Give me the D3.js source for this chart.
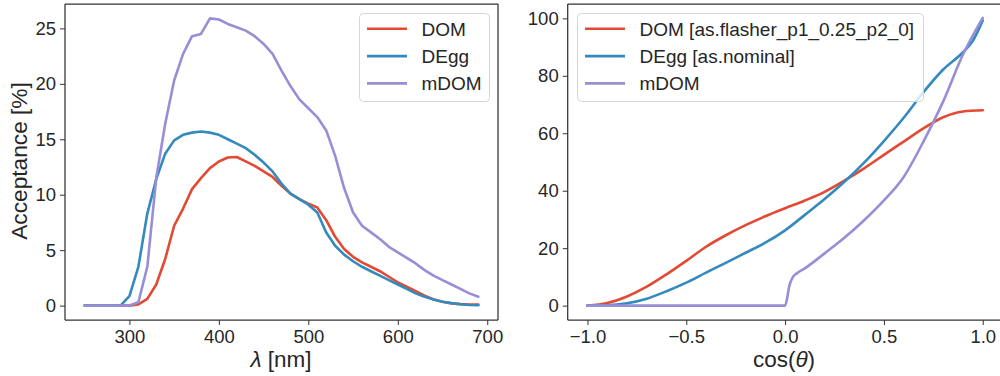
<!DOCTYPE html>
<html><head><meta charset="utf-8">
<script src="https://cdn.jsdelivr.net/npm/d3@7"></script>
<style>
body{margin:0;background:#fff;}
text{font-family:"Liberation Sans",Arial,sans-serif;fill:#262626;}
</style></head>
<body><svg id="c" width="1000" height="376"></svg>
<script>
// ---- Left panel data: wavelength [nm] ----
const wavelengths = [250,260,270,280,290,300,310,320,330,340,350,360,370,380,390,400,410,420,430,440,450,460,470,480,490,500,510,520,530,540,550,560,570,580,590,600,610,620,630,640,650,660,670,680,690];
const accDOM  = [0,0,0,0,0,0,0.1,0.6,1.9,4.2,7.2,8.75,10.5,11.5,12.4,13.0,13.35,13.4,13.0,12.6,12.1,11.6,10.8,10.1,9.6,9.2,8.85,7.7,6.2,5.1,4.4,3.9,3.5,3.1,2.6,2.1,1.7,1.3,0.9,0.55,0.35,0.2,0.13,0.1,0.09];
const accDEgg = [0,0,0,0,0,0.85,3.5,8.3,11.4,13.7,14.9,15.4,15.6,15.7,15.6,15.4,15.0,14.6,14.2,13.6,12.9,12.1,11.0,10.1,9.6,9.1,8.4,6.6,5.4,4.6,4.0,3.5,3.1,2.7,2.3,1.9,1.5,1.1,0.8,0.55,0.35,0.22,0.12,0.05,0.03];
const accMDOM = [0,0,0,0,0,0,0.3,3.5,11.5,16.4,20.3,22.7,24.3,24.5,25.9,25.8,25.4,25.1,24.8,24.3,23.6,22.7,21.2,19.8,18.6,17.8,17.0,15.8,13.5,10.6,8.4,7.2,6.6,6.0,5.3,4.8,4.3,3.8,3.2,2.7,2.3,1.9,1.5,1.1,0.8];
const leftXTicks = [300,400,500,600,700];
const leftYTicks = [0,5,10,15,20,25];
const leftLabels = ["DOM","DEgg","mDOM"];

// ---- Right panel data: cos(theta) ----
const cosDOM  = [-1.0,-0.9,-0.8,-0.7,-0.6,-0.5,-0.4,-0.3,-0.2,-0.1,0.0,0.1,0.2,0.3,0.4,0.5,0.6,0.7,0.8,0.9,1.0];
const angDOM  = [0,0.9,3.2,6.6,10.9,15.6,20.5,24.5,28.0,31.1,33.9,36.6,39.6,43.5,47.8,52.5,57.1,61.7,65.6,67.6,68.0];
const cosDEgg = [-1.0,-0.9,-0.8,-0.7,-0.6,-0.5,-0.4,-0.3,-0.2,-0.1,0.0,0.1,0.2,0.3,0.4,0.5,0.6,0.7,0.8,0.9,0.95,1.0];
const angDEgg = [0,0.1,0.8,2.4,5.0,8.0,11.5,14.9,18.4,21.9,26.2,31.6,37.1,43.1,49.8,57.3,65.4,74.3,82.2,88.2,92.2,99.3];
const cosMDOM = [-1.0,-0.5,0.0,0.01,0.02,0.04,0.06,0.1,0.2,0.3,0.4,0.5,0.6,0.7,0.8,0.9,1.0];
const angMDOM = [0,0,0,2.5,6.5,10.0,11.3,13.0,18.2,23.6,29.7,36.6,44.8,57.1,71.1,87.4,100.2];
const rightXTicks = [-1.0,-0.5,0.0,0.5,1.0];
const rightYTicks = [0,20,40,60,80,100];
const rightLabels = ["DOM [as.flasher_p1_0.25_p2_0]","DEgg [as.nominal]","mDOM"];

const colors = ["#E24A33","#348ABD","#988ED5"];

const svg = d3.select("#c");

function panel(opts){
  const {x, y, series, xTicks, yTicks, xFmt, labels, legend, showRight} = opts;
  const g = svg.append("g");
  const [x0,x1] = x.range(), [y0,y1] = y.range();
  const line = d3.line().x(d=>x(d[0])).y(d=>y(d[1])).curve(opts.curve);
  series.forEach((s,i)=>{
    g.append("path").datum(s).attr("d",line).attr("fill","none")
     .attr("stroke",colors[i]).attr("stroke-width",2.6).attr("stroke-linejoin","round").attr("stroke-linecap","round");
  });
  const xa = g.append("g").attr("transform",`translate(0,${y0})`)
    .call(d3.axisBottom(x).tickValues(xTicks).tickFormat(xFmt).tickSize(5).tickPadding(5));
  const ya = g.append("g").attr("transform",`translate(${x0},0)`)
    .call(d3.axisLeft(y).tickValues(yTicks).tickSize(5).tickPadding(4));
  [xa,ya].forEach(a=>{
    a.select(".domain").remove();
    a.selectAll(".tick line").attr("stroke","#333").attr("stroke-width",1);
    a.selectAll(".tick text").style("font-size","18.5px").attr("fill","#262626");
  });
  const sp = g.append("g").attr("fill","none").attr("stroke","#333").attr("stroke-width",1.25);
  sp.append("line").attr("x1",x0).attr("x2",x0).attr("y1",y0).attr("y2",y1);
  sp.append("line").attr("x1",x0).attr("x2",x1).attr("y1",y0).attr("y2",y0);
  sp.append("line").attr("x1",x0).attr("x2",x1).attr("y1",y1).attr("y2",y1);
  if(showRight) sp.append("line").attr("x1",x1).attr("x2",x1).attr("y1",y0).attr("y2",y1);
  const lg = g.append("g");
  lg.append("rect").attr("x",legend.x).attr("y",legend.y).attr("width",legend.w).attr("height",legend.h)
    .attr("rx",4).attr("fill","#fff").attr("fill-opacity",0.8).attr("stroke","#d6d6d6").attr("stroke-width",1);
  labels.forEach((t,i)=>{
    const cy = legend.y + 15.3 + i*27.3;
    lg.append("line").attr("x1",legend.x+7.5).attr("x2",legend.x+47.5).attr("y1",cy).attr("y2",cy)
      .attr("stroke",colors[i]).attr("stroke-width",2.6);
    lg.append("text").attr("x",legend.x+62).attr("y",cy+7).style("font-size","19px").text(t);
  });
  return g;
}

// Left panel
const xL = d3.scaleLinear().domain([228,712]).range([65,498]);
const yL = d3.scaleLinear().domain([-1.3,27.2]).range([320,4]);
panel({
  x:xL, y:yL,
  series:[accDOM,accDEgg,accMDOM].map(v=>v.map((d,i)=>[wavelengths[i],d])),
  xTicks:leftXTicks, yTicks:leftYTicks, xFmt:d3.format("d"),
  labels:leftLabels, curve:d3.curveLinear, showRight:true,
  legend:{x:359.5,y:13.5,w:130,h:88}
});
svg.append("text").attr("x",281).attr("y",367).attr("text-anchor","middle").style("font-size","22.5px")
  .html('<tspan font-style="italic">λ</tspan> [nm]');
svg.append("text").attr("transform","translate(27,161) rotate(-90)").attr("text-anchor","middle")
  .style("font-size","22.7px").text("Acceptance [%]");

// Right panel
const xR = d3.scaleLinear().domain([-1.1,1.1]).range([567.7,1002.5]);
const yR = d3.scaleLinear().domain([-5,105]).range([320,4]);
panel({
  x:xR, y:yR,
  series:[[cosDOM,angDOM],[cosDEgg,angDEgg],[cosMDOM,angMDOM]].map(([xs,vs])=>xs.map((c,i)=>[c,vs[i]])),
  xTicks:rightXTicks, yTicks:rightYTicks, xFmt:d=>d3.format(".1f")(d).replace("-","−"),
  labels:rightLabels, curve:d3.curveMonotoneX, showRight:false,
  legend:{x:577.5,y:13.5,w:346,h:88}
});
svg.append("text").attr("x",784).attr("y",367).attr("text-anchor","middle").style("font-size","22.5px")
  .html('cos(<tspan font-style="italic">θ</tspan>)');
</script></body></html>
